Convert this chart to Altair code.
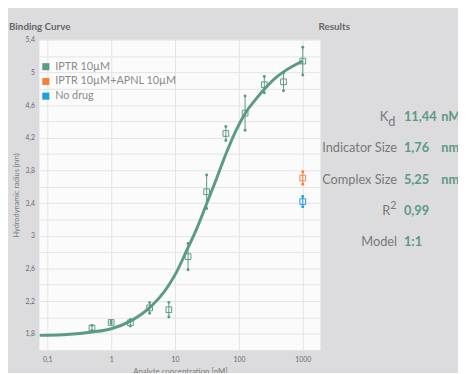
import altair as alt
import pandas as pd

# ---------------- data ----------------
series_names = ["IPTR 10µM", "IPTR 10µM+APNL 10µM", "No drug"]
series_colors = ["#5b9a85", "#f5823a", "#1c9fe4"]

# IPTR 10µM titration (nM, nm)
iptr_conc = [0.5, 1, 2, 4, 8, 16, 31.25, 62.5, 125, 250, 500, 1000]
iptr_rh = [1.871, 1.939, 1.935, 2.117, 2.095, 2.745, 3.539, 4.252, 4.501, 4.849, 4.885, 5.138]
iptr_err = [0.03, 0.012, 0.04, 0.065, 0.09, 0.16, 0.205, 0.085, 0.21, 0.10, 0.11, 0.17]

# controls at the top concentration
ctrl_series = ["IPTR 10µM+APNL 10µM", "No drug"]
ctrl_conc = [1000, 1000]
ctrl_rh = [3.707, 3.418]
ctrl_err = [0.076, 0.064]

# fitted binding curve
fit_conc = [0.076, 0.1, 0.2, 0.5, 1, 2, 4, 7.5, 10.7, 15.3, 21.8, 31, 44, 63, 90,
            128, 183, 260, 371, 527, 753, 1000]
fit_rh = [1.781, 1.783, 1.792, 1.822, 1.862, 1.955, 2.12, 2.364, 2.565, 2.824, 3.085,
          3.386, 3.686, 4.007, 4.288, 4.508, 4.669, 4.808, 4.929, 5.018, 5.090, 5.138]

# axes
x_ticks = [0.1, 1, 10, 100, 1000]
y_grid = [1.6, 1.8, 2.0, 2.2, 2.4, 2.6, 2.8, 3.0, 3.2, 3.4, 3.6, 3.8, 4.0, 4.2,
          4.4, 4.6, 4.8, 5.0, 5.2, 5.4]
y_labels = ["1.8", "2.2", "2.6", "3", "3.4", "3.8", "4.2", "4.6", "5", "5.4"]

# results panel
res_label = ["K", "Indicator Size", "Complex Size", "R", "Model"]
res_sub = ["d", "", "", "", ""]
res_sup = ["", "", "", "2", ""]
res_value = ["11,44", "1,76", "5,25", "0,99", "1:1"]
res_unit = ["nM", "nm", "nm", "", ""]

# ---------------- tables ----------------
pts = pd.DataFrame({
    "conc": iptr_conc + ctrl_conc,
    "rh": iptr_rh + ctrl_rh,
    "err": iptr_err + ctrl_err,
    "series": [series_names[0]] * len(iptr_conc) + ctrl_series,
})
pts["lo"] = pts["rh"] - pts["err"]
pts["hi"] = pts["rh"] + pts["err"]
fit = pd.DataFrame({"conc": fit_conc, "rh": fit_rh})
res = pd.DataFrame({
    "row": list(range(len(res_label))),
    "label": res_label,
    "sub": res_sub,
    "sup": res_sup,
    "value": res_value,
    "unit": res_unit,
})

FONT = "Lato"
GREEN = series_colors[0]

xscale = alt.Scale(type="log", domain=[0.0753, 1892], nice=False)
yscale = alt.Scale(domain=[1.6, 5.4], nice=False, zero=False)
cscale = alt.Scale(domain=series_names, range=series_colors)

label_expr = (
    "indexof([" + ",".join("'" + s + "'" for s in y_labels) + "], toString(datum.value)) >= 0"
    " ? replace(toString(datum.value), '.', ',') : ''"
)

x_axis = alt.Axis(values=x_ticks, title="Analyte concentration [nM]",
                  labelExpr="replace(toString(datum.value), '.', ',')",
                  ticks=False, domain=False, labelPadding=6, labelFontSize=7,
                  labelColor="#6a6a6a", titleFontSize=8, titleFontWeight="normal",
                  titleColor="#777777", titlePadding=5, gridColor="#e3e3e3",
                  labelFont=FONT, titleFont=FONT)
y_axis = alt.Axis(values=y_grid, labelExpr=label_expr, title="Hydrodynamic radius (nm)",
                  ticks=False, domain=False, labelPadding=5, labelFontSize=7,
                  labelColor="#6a6a6a", titleFontSize=7.5, titleFontWeight="normal",
                  titleColor="#7a7a7a", titlePadding=5, gridColor="#e3e3e3",
                  labelFont=FONT, titleFont=FONT)

legend = alt.Legend(
    title=None, orient="none", legendX=1, legendY=22, padding=0,
    symbolType="square", symbolSize=52, symbolStrokeWidth=0,
    symbolOpacity=1, labelFontSize=11, labelColor="#8a8a8a", labelFont=FONT,
    labelOffset=4, rowPadding=3,
)
COLOR = alt.Color("series:N", scale=cscale, legend=legend)
X = alt.X("conc:Q", scale=xscale, axis=x_axis)


def Y(field):
    return alt.Y(field, type="quantitative", scale=yscale, axis=y_axis)


curve = alt.Chart(fit).mark_line(interpolate="monotone", strokeWidth=3, color=GREEN).encode(
    x=X, y=Y("rh"),
)

base = alt.Chart(pts)
cap_lo = base.mark_point(filled=True, shape="circle", size=9, opacity=1).encode(
    x=X, y=Y("lo"), color=COLOR,
)
cap_hi = base.mark_point(filled=True, shape="circle", size=9, opacity=1).encode(
    x=X, y=Y("hi"), color=COLOR,
)
bars = base.mark_rule(strokeWidth=1).encode(
    x=X, y=Y("lo"), y2="hi:Q", color=COLOR,
)
squares = base.mark_point(shape="square", size=34, filled=False, strokeWidth=1, opacity=1).encode(
    x=X, y=Y("rh"), color=COLOR,
)

plot = alt.layer(curve, cap_lo, cap_hi, bars, squares)

# ---------------- results panel ----------------
rowscale = alt.Scale(type="point", domain=list(range(len(res_label))), range=[63, 222])
RY = alt.Y("row:O", scale=rowscale, axis=None)
rbase = alt.Chart(res)
txt = dict(baseline="middle", font=FONT, fontSize=13, color="#787878")

labels = rbase.transform_filter("datum.sub == '' && datum.sup == ''").mark_text(
    align="right", **txt).encode(x=alt.value(364), y=RY, text="label:N")
klabel = rbase.transform_filter("datum.sub != ''").mark_text(
    align="right", **txt).encode(x=alt.value(355), y=RY, text="label:N")
ksub = rbase.transform_filter("datum.sub != ''").mark_text(
    align="left", dy=5, **txt).encode(x=alt.value(355), y=RY, text="sub:N")
rlabel = rbase.transform_filter("datum.sup != ''").mark_text(
    align="right", **txt).encode(x=alt.value(357), y=RY, text="label:N")
rsup = rbase.transform_filter("datum.sup != ''").mark_text(
    align="left", dy=-5, baseline="middle", font=FONT, fontSize=11, color="#787878"
).encode(x=alt.value(357), y=RY, text="sup:N")

values = rbase.mark_text(
    align="left", baseline="middle", font=FONT, fontSize=13, fontWeight="bold", color=GREEN
).encode(x=alt.value(371), y=RY, text="value:N")
units = rbase.mark_text(
    align="left", baseline="middle", font=FONT, fontSize=13, fontWeight="bold", color=GREEN
).encode(x=alt.value(409), y=RY, text="unit:N")

titles = alt.Chart(pd.DataFrame({"t": ["Binding Curve", "Results"], "k": [0, 1]}))
title_style = dict(align="left", baseline="middle", font=FONT, fontSize=10,
                   fontWeight="bold", color="#666666")
t_left = titles.transform_filter("datum.k == 0").mark_text(**title_style).encode(
    x=alt.value(-31), y=alt.value(-13), text="t:N")
t_right = titles.transform_filter("datum.k == 1").mark_text(**title_style).encode(
    x=alt.value(284), y=alt.value(-13), text="t:N")

results = alt.layer(labels, klabel, ksub, rlabel, rsup, values, units, t_left, t_right)

chart = alt.layer(plot, results).resolve_scale(y="independent").properties(
    width=286,
    height=316,
    autosize=alt.AutoSizeParams(type="none"),
    padding={"left": 32, "top": 29, "right": 140, "bottom": 20},
    background="#dcdcdf",
).configure_view(
    fill="#fbfbfb", strokeWidth=0
)

chart.save("out.html", embed_options={"renderer": "svg", "actions": False})
